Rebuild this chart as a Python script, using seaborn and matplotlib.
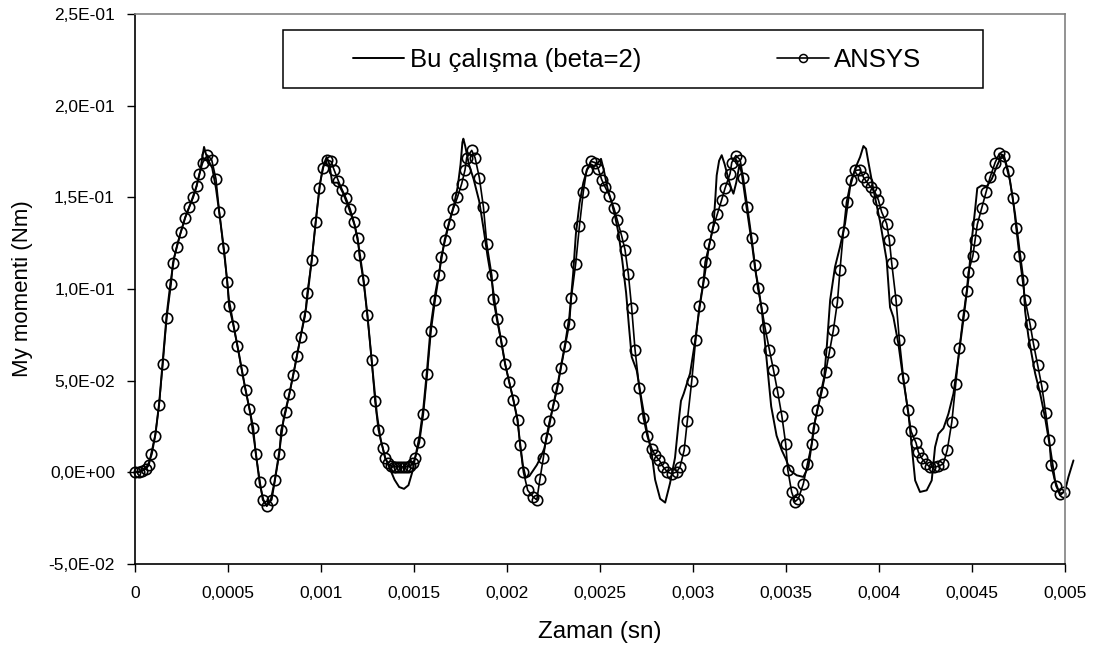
import numpy as np
import pandas as pd
import matplotlib
matplotlib.use("Agg")
import matplotlib.pyplot as plt
from matplotlib.patches import Rectangle
from matplotlib.lines import Line2D
import seaborn as sns

# Bu çalışma (beta=2) - zaman (ms), moment (Nm)
bu_t_ms = [0.000, 0.040, 0.070, 0.090, 0.110, 0.130, 0.150, 0.170, 0.190, 0.210,
           0.240, 0.270, 0.300, 0.330, 0.350, 0.362, 0.371, 0.380, 0.395, 0.415,
           0.435, 0.455, 0.480, 0.505, 0.530, 0.560, 0.590, 0.620, 0.645, 0.670,
           0.690, 0.708, 0.730, 0.750, 0.775, 0.800, 0.830, 0.860, 0.890, 0.920,
           0.950, 0.975, 0.995, 1.015, 1.030, 1.045, 1.060, 1.090, 1.120, 1.150,
           1.180, 1.200, 1.230, 1.250, 1.275, 1.300, 1.320, 1.345, 1.370, 1.395,
           1.420, 1.446, 1.470, 1.490, 1.510, 1.530, 1.550, 1.570, 1.590, 1.615,
           1.640, 1.665, 1.690, 1.715, 1.735, 1.750, 1.760, 1.765, 1.775, 1.795,
           1.820, 1.850, 1.875, 1.895, 1.920, 1.945, 1.970, 1.990, 2.012, 2.035,
           2.055, 2.070, 2.085, 2.100, 2.120, 2.140, 2.160, 2.180, 2.200, 2.220,
           2.245, 2.270, 2.290, 2.312, 2.335, 2.355, 2.370, 2.390, 2.410, 2.430,
           2.450, 2.470, 2.490, 2.505, 2.520, 2.540, 2.560, 2.580, 2.600, 2.620,
           2.640, 2.655, 2.670, 2.697, 2.724, 2.751, 2.778, 2.796, 2.823, 2.850,
           2.876, 2.903, 2.925, 2.935, 2.950, 2.984, 3.010, 3.035, 3.060, 3.085,
           3.110, 3.120, 3.127, 3.140, 3.154, 3.170, 3.190, 3.205, 3.217, 3.232,
           3.250, 3.262, 3.280, 3.300, 3.320, 3.335, 3.350, 3.370, 3.396, 3.420,
           3.449, 3.477, 3.500, 3.522, 3.557, 3.593, 3.620, 3.638, 3.656, 3.680,
           3.705, 3.720, 3.737, 3.763, 3.790, 3.817, 3.844, 3.871, 3.898, 3.916,
           3.930, 3.943, 3.970, 4.005, 4.041, 4.059, 4.077, 4.104, 4.131, 4.158,
           4.176, 4.194, 4.220, 4.256, 4.283, 4.301, 4.319, 4.346, 4.373, 4.400,
           4.427, 4.453, 4.480, 4.498, 4.516, 4.528, 4.552, 4.579, 4.606, 4.633,
           4.660, 4.677, 4.704, 4.731, 4.758, 4.776, 4.785, 4.803, 4.839, 4.866,
           4.892, 4.919, 4.946, 4.973, 5.000, 5.018, 5.045]
bu_val = [0.000, 0.001, 0.004, 0.010, 0.021, 0.038, 0.062, 0.086, 0.103, 0.117,
          0.129, 0.139, 0.147, 0.156, 0.164, 0.172, 0.1775, 0.174, 0.170, 0.166,
          0.155, 0.140, 0.120, 0.094, 0.080, 0.064, 0.047, 0.032, 0.014, -0.006,
          -0.015, -0.018, -0.015, -0.005, 0.011, 0.030, 0.043, 0.058, 0.074, 0.090,
          0.116, 0.140, 0.158, 0.168, 0.172, 0.168, 0.158, 0.158, 0.152, 0.144,
          0.135, 0.125, 0.104, 0.085, 0.058, 0.032, 0.018, 0.008, 0.002, -0.004,
          -0.008, -0.009, -0.007, 0.000, 0.010, 0.020, 0.035, 0.056, 0.080, 0.098,
          0.112, 0.127, 0.137, 0.146, 0.156, 0.168, 0.180, 0.182, 0.178, 0.168,
          0.160, 0.148, 0.132, 0.118, 0.103, 0.085, 0.071, 0.059, 0.049, 0.039,
          0.029, 0.016, 0.004, -0.003, -0.002, 0.001, 0.004, 0.008, 0.013, 0.022,
          0.035, 0.047, 0.058, 0.070, 0.085, 0.108, 0.130, 0.147, 0.158, 0.165,
          0.168, 0.167, 0.169, 0.171, 0.165, 0.155, 0.148, 0.140, 0.130, 0.115,
          0.098, 0.080, 0.063, 0.0556, 0.039, 0.023, 0.010, -0.004, -0.0144, -0.0165,
          -0.006, 0.008, 0.030, 0.039, 0.043, 0.054, 0.071, 0.090, 0.106, 0.123,
          0.135, 0.150, 0.162, 0.170, 0.173, 0.168, 0.160, 0.155, 0.152, 0.158,
          0.168, 0.163, 0.150, 0.136, 0.122, 0.110, 0.102, 0.088, 0.061, 0.036,
          0.020, 0.012, 0.007, 0.001, -0.0016, -0.0025, 0.003, 0.0156, 0.028, 0.040,
          0.052, 0.070, 0.094, 0.112, 0.123, 0.1356, 0.1556, 0.1656, 0.172, 0.178,
          0.1765, 0.169, 0.154, 0.137, 0.1156, 0.090, 0.0847, 0.070, 0.050, 0.032,
          0.0138, -0.0044, -0.0107, -0.0098, -0.0044, 0.0138, 0.021, 0.024, 0.032, 0.043,
          0.063, 0.083, 0.105, 0.1265, 0.143, 0.155, 0.1565, 0.156, 0.160, 0.167,
          0.173, 0.170, 0.159, 0.141, 0.119, 0.105, 0.088, 0.074, 0.054, 0.043,
          0.030, 0.0138, -0.0044, -0.0125, -0.010, -0.0025, 0.0065]

# ANSYS - zaman (ms), moment (Nm)
ansys_t_ms = [0.000, 0.020, 0.040, 0.060, 0.075, 0.086, 0.108, 0.129, 0.149, 0.170,
              0.194, 0.203, 0.224, 0.246, 0.269, 0.292, 0.313, 0.331, 0.346, 0.364,
              0.389, 0.412, 0.435, 0.453, 0.475, 0.496, 0.505, 0.529, 0.550, 0.574,
              0.595, 0.615, 0.636, 0.649, 0.672, 0.686, 0.708, 0.735, 0.753, 0.776,
              0.785, 0.810, 0.830, 0.850, 0.870, 0.890, 0.914, 0.926, 0.950, 0.971,
              0.991, 1.009, 1.030, 1.054, 1.070, 1.093, 1.115, 1.134, 1.156, 1.177,
              1.197, 1.206, 1.227, 1.249, 1.272, 1.290, 1.308, 1.332, 1.344, 1.360,
              1.375, 1.390, 1.405, 1.420, 1.435, 1.450, 1.465, 1.480, 1.495, 1.505,
              1.529, 1.550, 1.571, 1.591, 1.613, 1.634, 1.645, 1.667, 1.688, 1.711,
              1.733, 1.756, 1.774, 1.783, 1.810, 1.828, 1.851, 1.873, 1.891, 1.918,
              1.926, 1.945, 1.968, 1.989, 2.012, 2.034, 2.057, 2.070, 2.088, 2.111,
              2.141, 2.160, 2.177, 2.195, 2.210, 2.228, 2.249, 2.271, 2.290, 2.312,
              2.335, 2.345, 2.369, 2.389, 2.410, 2.428, 2.450, 2.473, 2.490, 2.509,
              2.528, 2.550, 2.575, 2.593, 2.616, 2.634, 2.652, 2.670, 2.688, 2.711,
              2.733, 2.754, 2.778, 2.796, 2.819, 2.840, 2.862, 2.885, 2.912, 2.930,
              2.952, 2.969, 2.993, 3.014, 3.034, 3.055, 3.065, 3.088, 3.109, 3.131,
              3.154, 3.172, 3.199, 3.208, 3.230, 3.253, 3.270, 3.292, 3.315, 3.333,
              3.348, 3.369, 3.387, 3.410, 3.432, 3.455, 3.477, 3.498, 3.509, 3.530,
              3.548, 3.566, 3.593, 3.615, 3.638, 3.647, 3.668, 3.692, 3.713, 3.733,
              3.754, 3.776, 3.790, 3.808, 3.825, 3.850, 3.871, 3.898, 3.916, 3.934,
              3.955, 3.978, 3.996, 4.014, 4.041, 4.055, 4.068, 4.091, 4.109, 4.131,
              4.154, 4.172, 4.199, 4.211, 4.229, 4.253, 4.274, 4.297, 4.319, 4.346,
              4.367, 4.391, 4.412, 4.432, 4.453, 4.471, 4.480, 4.504, 4.516, 4.528,
              4.552, 4.575, 4.597, 4.624, 4.647, 4.672, 4.695, 4.719, 4.737, 4.754,
              4.771, 4.785, 4.812, 4.830, 4.853, 4.875, 4.896, 4.915, 4.925, 4.952,
              4.973, 4.995]
ansys_val = [0.000, 0.000, 0.001, 0.002, 0.004, 0.010, 0.020, 0.0365, 0.059, 0.084,
             0.103, 0.114, 0.123, 0.131, 0.139, 0.145, 0.150, 0.156, 0.163, 0.169,
             0.173, 0.1705, 0.160, 0.142, 0.1225, 0.104, 0.0905, 0.080, 0.069, 0.0556,
             0.0447, 0.0347, 0.0244, 0.0102, -0.0053, -0.0149, -0.0185, -0.0149, -0.004, 0.0102,
             0.0229, 0.033, 0.043, 0.053, 0.0634, 0.074, 0.0853, 0.098, 0.1156, 0.1365,
             0.155, 0.166, 0.1705, 0.1696, 0.165, 0.159, 0.1538, 0.1496, 0.1438, 0.1365,
             0.128, 0.1183, 0.105, 0.0856, 0.0614, 0.039, 0.0233, 0.0133, 0.0078, 0.005,
             0.0035, 0.003, 0.003, 0.003, 0.003, 0.003, 0.003, 0.0035, 0.005, 0.0078,
             0.0165, 0.032, 0.0538, 0.077, 0.0938, 0.1074, 0.1174, 0.1265, 0.1356, 0.1438,
             0.150, 0.1574, 0.165, 0.1716, 0.1756, 0.1716, 0.1607, 0.1447, 0.1247, 0.1074,
             0.0943, 0.0834, 0.0714, 0.0593, 0.0493, 0.0396, 0.0287, 0.0147, 0.0002, -0.0098,
             -0.0135, -0.015, -0.0035, 0.0078, 0.0187, 0.0278, 0.0365, 0.0462, 0.0571, 0.0689,
             0.081, 0.095, 0.1138, 0.1343, 0.153, 0.165, 0.1696, 0.169, 0.1656, 0.1596,
             0.1555, 0.151, 0.144, 0.1375, 0.129, 0.1215, 0.1083, 0.0896, 0.067, 0.046,
             0.0296, 0.0196, 0.0129, 0.0093, 0.0065, 0.0029, 0.0002, -0.0007, 0.0002, 0.003,
             0.012, 0.028, 0.050, 0.0723, 0.0905, 0.1038, 0.1147, 0.1247, 0.1338, 0.141,
             0.1487, 0.155, 0.163, 0.169, 0.1728, 0.1705, 0.1607, 0.145, 0.128, 0.1129,
             0.1005, 0.0896, 0.0789, 0.067, 0.056, 0.0438, 0.031, 0.0156, 0.0015, -0.0107,
             -0.016, -0.0144, -0.0062, 0.0047, 0.0156, 0.0242, 0.0338, 0.0438, 0.0547, 0.0656,
             0.0774, 0.0929, 0.1105, 0.131, 0.1474, 0.1596, 0.1647, 0.165, 0.161, 0.1583,
             0.1556, 0.1528, 0.1487, 0.142, 0.1356, 0.1269, 0.1141, 0.0942, 0.0723, 0.0514,
             0.0342, 0.0224, 0.016, 0.0111, 0.0078, 0.0047, 0.0029, 0.0029, 0.0033, 0.0047,
             0.0124, 0.0274, 0.0484, 0.0678, 0.0856, 0.0989, 0.1092, 0.118, 0.1265, 0.1352,
             0.1443, 0.1528, 0.161, 0.169, 0.174, 0.1728, 0.1643, 0.1496, 0.1334, 0.118,
             0.105, 0.0942, 0.0807, 0.0702, 0.0583, 0.0469, 0.0323, 0.0178, 0.0038, -0.0076,
             -0.0116, -0.0107]

x_ticks = [0, 0.0005, 0.001, 0.0015, 0.002, 0.0025, 0.003, 0.0035, 0.004, 0.0045, 0.005]
x_tick_labels = ["0", "0,0005", "0,001", "0,0015", "0,002", "0,0025", "0,003",
                 "0,0035", "0,004", "0,0045", "0,005"]
y_ticks = [-0.05, 0.0, 0.05, 0.10, 0.15, 0.20, 0.25]
y_tick_labels = ["-5,0E-02", "0,0E+00", "5,0E-02", "1,0E-01", "1,5E-01", "2,0E-01", "2,5E-01"]
series_names = ["Bu çalışma (beta=2)", "ANSYS"]

sns.set_theme(style="white")
plt.rcParams['font.family'] = ['Liberation Sans', 'DejaVu Sans']

bu = pd.DataFrame({"t": np.array(bu_t_ms) / 1000, "m": bu_val})
ansys = pd.DataFrame({"t": np.array(ansys_t_ms) / 1000, "m": ansys_val})

fig = plt.figure(figsize=(11.06, 6.55), dpi=100)
ax = fig.add_axes([0.1221, 0.1389, 0.8409, 0.8397])

sns.lineplot(data=bu, x="t", y="m", ax=ax, color="black", lw=1.4,
             sort=False, estimator=None, clip_on=False)
sns.lineplot(data=ansys, x="t", y="m", ax=ax, color="black", lw=1.2,
             sort=False, estimator=None, clip_on=False,
             marker="o", markersize=7.5, markerfacecolor="none",
             markeredgecolor="black", markeredgewidth=1.2)

ax.set_xlim(0, 0.005)
ax.set_ylim(-0.05, 0.25)
ax.set_xticks(x_ticks)
ax.set_xticklabels(x_tick_labels)
ax.set_yticks(y_ticks)
ax.set_yticklabels(y_tick_labels)
ax.tick_params(axis="both", bottom=True, left=True, direction="out", length=6,
               width=1, color="black", labelsize=12.5, labelcolor="black")
ax.tick_params(axis="x", pad=9.5)
ax.tick_params(axis="y", pad=8.5)

for s in ["left", "bottom"]:
    ax.spines[s].set_color("black")
    ax.spines[s].set_linewidth(1.2)
for s in ["top", "right"]:
    ax.spines[s].set_color("#808080")
    ax.spines[s].set_linewidth(1.2)

ax.set_xlabel("Zaman (sn)", fontsize=17.5, color="black")
ax.set_ylabel("My momenti (Nm)", fontsize=16, color="black")
ax.xaxis.set_label_coords(0.5, -0.103)
ax.yaxis.set_label_coords(-0.11, 0.5)

# legend kutusu
ax.add_patch(Rectangle((0.159, 0.8655), 0.753, 0.1055, transform=ax.transAxes,
                       facecolor="white", edgecolor="black", lw=1.1, zorder=4))
handles = [Line2D([], [], color="black", lw=1.4),
           Line2D([], [], color="black", lw=1.2, marker="o", markersize=5.8,
                  markerfacecolor="none", markeredgecolor="black", markeredgewidth=1.1)]
leg = ax.legend(handles, series_names, loc="center left", bbox_to_anchor=(0.2344, 0.917),
                ncol=2, frameon=False, fontsize=18.5, handlelength=2.0, handletextpad=0.2,
                columnspacing=5.3, borderpad=0, borderaxespad=0)
leg.set_zorder(5)
for t in leg.get_texts():
    t.set_color("black")

fig.savefig("out.png", dpi=100)
